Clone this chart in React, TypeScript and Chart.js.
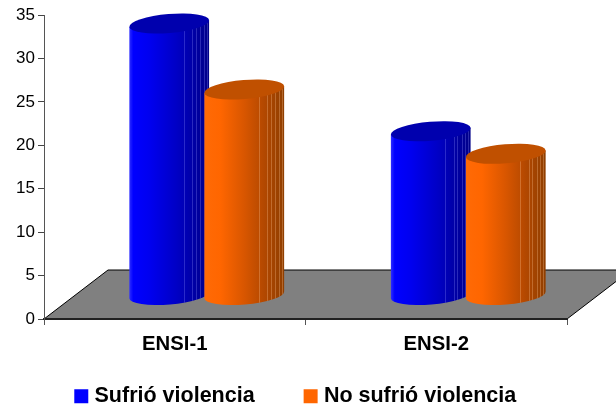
import React, { useEffect, useRef } from "react";
import { Chart, registerables } from "chart.js";

Chart.register(...registerables);

const categories = ["ENSI-1", "ENSI-2"];
const sufrio = [31.2, 18.8];
const noSufrio = [23.6, 16.2];
const seriesNames = ["Sufrió violencia", "No sufrió violencia"];
const seriesColors = ["#0000FF", "#FF6600"];
const FONT = "'Liberation Sans', Arial, sans-serif";

const DEPTH_X = 64;
const DEPTH_Y = 49;
const RX = 40;
const RY = 9.5;
const TILT = -0.085;

const palettes: Record<string, { stops: [number, string][]; top: string; line: string }> = {
  "#0000FF": {
    stops: [[0, "#2E2EFF"], [0.05, "#0000FF"], [0.25, "#0000F0"], [0.6, "#0000C4"], [1, "#000088"]],
    top: "#0000AE",
    line: "rgba(150,150,255,0.28)",
  },
  "#FF6600": {
    stops: [[0, "#FF6A06"], [0.2, "#FF6600"], [0.5, "#D85600"], [0.75, "#B34800"], [1, "#8F3E00"]],
    top: "#C05000",
    line: "rgba(255,200,150,0.3)",
  },
};
const facetFractions = [0.68, 0.79, 0.83, 0.89, 0.93, 0.97];

function drawCylinder(ctx: CanvasRenderingContext2D, x: number, topY: number, baseY: number, color: string) {
  const p = palettes[color];
  const dx = RX * Math.cos(TILT);
  const dy = RX * Math.sin(TILT);
  const grad = ctx.createLinearGradient(x - RX, 0, x + RX, 0);
  p.stops.forEach(([o, c]) => grad.addColorStop(o, c));
  ctx.save();
  ctx.beginPath();
  ctx.moveTo(x - dx, topY - dy);
  ctx.lineTo(x - dx, baseY - dy);
  ctx.ellipse(x, baseY + 0.5, RX, RY, TILT, Math.PI, 0, true);
  ctx.lineTo(x + dx, topY + dy);
  ctx.closePath();
  ctx.fillStyle = grad;
  ctx.fill();
  ctx.clip();
  ctx.strokeStyle = p.line;
  ctx.lineWidth = 1;
  facetFractions.forEach((f) => {
    const lx = Math.round(x - RX + 2 * RX * f) + 0.5;
    ctx.beginPath();
    ctx.moveTo(lx, topY - 20);
    ctx.lineTo(lx, baseY + 20);
    ctx.stroke();
  });
  ctx.restore();
  ctx.beginPath();
  ctx.ellipse(x, topY, RX, RY, TILT, 0, Math.PI * 2);
  ctx.fillStyle = p.top;
  ctx.fill();
}

const cylinderPlugin = {
  id: "cylinders",
  afterLayout(chart: any) {
    chart.legend.left += 14;
    chart.legend.right += 14;
    chart.legend.top = 332;
  },
  beforeDraw(chart: any) {
    const { ctx, chartArea: a } = chart;
    ctx.save();
    ctx.beginPath();
    ctx.moveTo(a.left, a.bottom);
    ctx.lineTo(a.left + DEPTH_X, a.bottom - DEPTH_Y);
    ctx.lineTo(a.right + DEPTH_X, a.bottom - DEPTH_Y);
    ctx.lineTo(a.right, a.bottom);
    ctx.closePath();
    ctx.fillStyle = "#808080";
    ctx.fill();
    ctx.strokeStyle = "#000000";
    ctx.lineWidth = 1;
    ctx.stroke();
    ctx.restore();
  },
  beforeDatasetsDraw(chart: any) {
    const y0 = chart.scales.y.getPixelForValue(0);
    categories.forEach((_, i) => {
      chart.data.datasets.forEach((ds: any, d: number) => {
        const el = chart.getDatasetMeta(d).data[i];
        drawCylinder(chart.ctx, el.x + DEPTH_X / 2, el.y - DEPTH_Y / 2, y0 - DEPTH_Y / 2, ds.backgroundColor);
      });
    });
  },
  beforeDatasetDraw() {
    return false;
  },
};

export default function App() {
  const ref = useRef<HTMLCanvasElement>(null);
  useEffect(() => {
    const chart = new Chart(ref.current!, {
      type: "bar",
      data: {
        labels: categories,
        datasets: [
          { label: seriesNames[0], data: sufrio, backgroundColor: seriesColors[0], borderWidth: 0 },
          { label: seriesNames[1], data: noSufrio, backgroundColor: seriesColors[1], borderWidth: 0 },
        ],
      },
      options: {
        responsive: false,
        animation: false,
        layout: { padding: { left: 0, top: 15, right: 49, bottom: -44 } },
        datasets: { bar: { barPercentage: 1, categoryPercentage: 0.574 } },
        plugins: {
          title: { display: false },
          tooltip: { enabled: false },
          legend: {
            position: "bottom",
            labels: {
              usePointStyle: true,
              pointStyle: "rect",
              boxWidth: 5,
              boxHeight: 14,
              padding: 53.5,
              color: "#000000",
              font: { family: FONT, size: 21.5, weight: "bold" },
            },
          },
        },
        scales: {
          x: {
            afterFit: (s: any) => { s.height = 46; },
            grid: { drawOnChartArea: false, drawTicks: true, tickLength: 6, color: "#555555", offset: true },
            border: { color: "#222222", width: 2 },
            ticks: { color: "#000000", padding: 7, font: { family: FONT, size: 20.3, weight: "bold" } },
          },
          y: {
            min: 0,
            max: 35,
            afterFit: (s: any) => { s.width = 44; },
            grid: { drawOnChartArea: false, drawTicks: true, tickLength: 6, color: "#444444" },
            border: { color: "#555555", width: 1 },
            ticks: { stepSize: 5, color: "#000000", padding: 3, font: { family: FONT, size: 17 } },
          },
        },
      },
      plugins: [cylinderPlugin],
    } as any);
    return () => chart.destroy();
  }, []);
  return (
    <div style={{ position: "absolute", left: 0, top: 0, width: 616, height: 406, background: "#ffffff" }}>
      <canvas ref={ref} width={616} height={406} style={{ display: "block" }} />
    </div>
  );
}
